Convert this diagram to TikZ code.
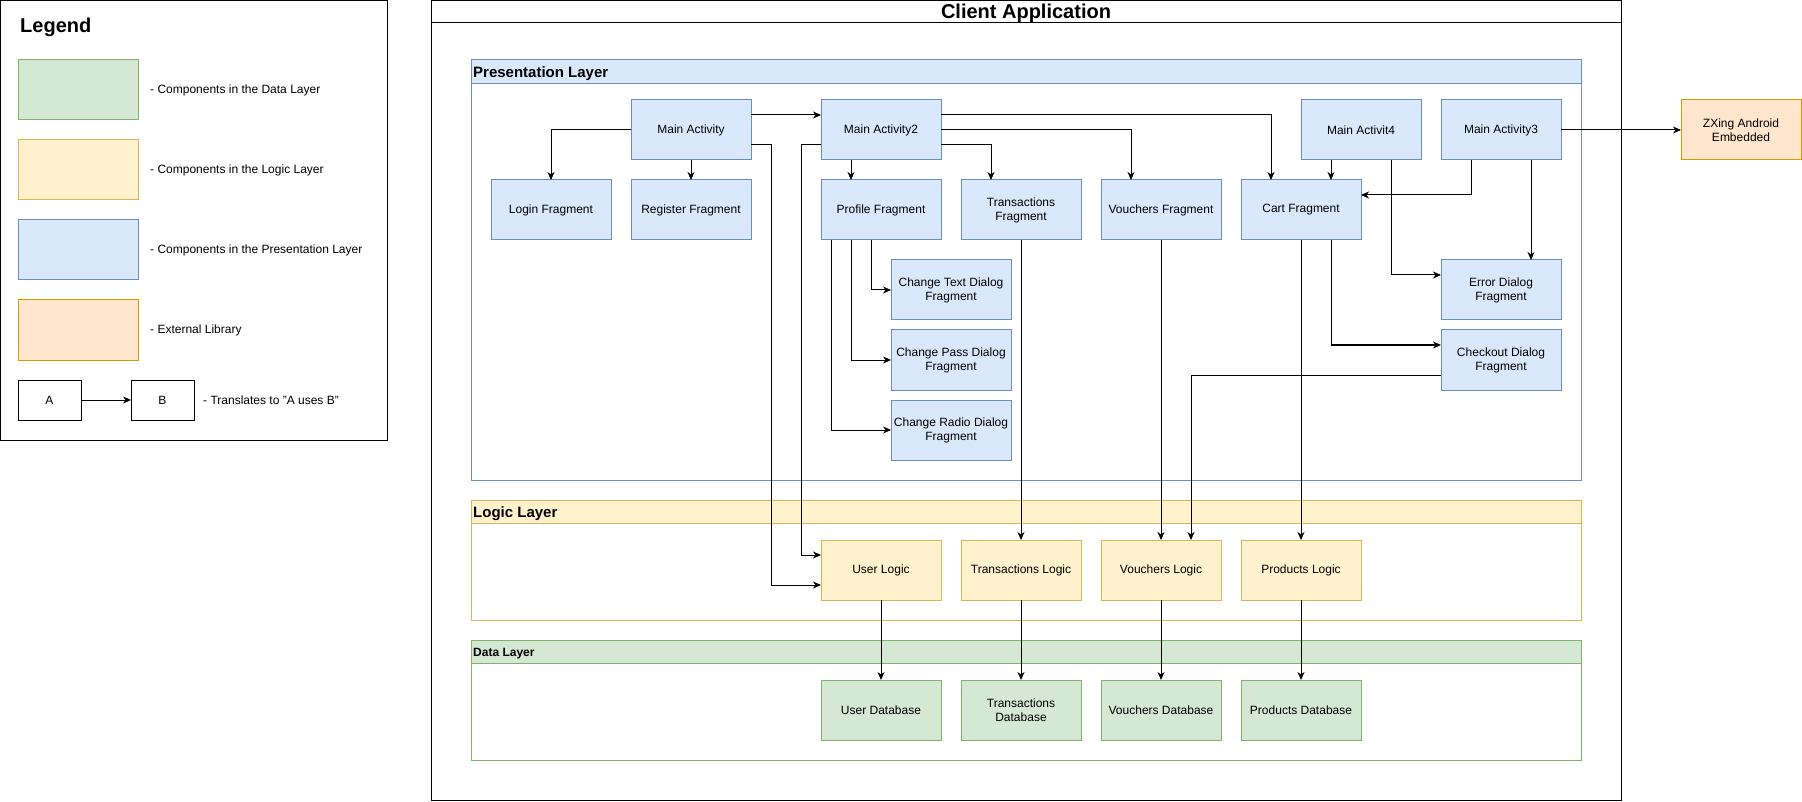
\documentclass[tikz,border=0pt]{standalone}
\usepackage{fontspec}
\setmainfont{Liberation Sans}
\usetikzlibrary{arrows.meta,calc}
\definecolor{pfill}{HTML}{DAE8FC}
\definecolor{pline}{HTML}{6C8EBF}
\definecolor{lfill}{HTML}{FFF2CC}
\definecolor{lline}{HTML}{D6B656}
\definecolor{dfill}{HTML}{D5E8D4}
\definecolor{dline}{HTML}{82B366}
\definecolor{efill}{HTML}{FFE6CC}
\definecolor{eline}{HTML}{D79B00}
\begin{document}
\begin{tikzpicture}[x=1pt,y=-1pt,
  every node/.style={font=\fontsize{12}{14}\selectfont},
  box/.style={draw, line width=1pt, minimum width=120pt, minimum height=60pt, inner sep=0pt, outer sep=0pt, align=center},
  pbox/.style={box, fill=pfill, draw=pline},
  lbox/.style={box, fill=lfill, draw=lline},
  dbox/.style={box, fill=dfill, draw=dline},
  ebox/.style={box, fill=efill, draw=eline},
  wbox/.style={box, fill=white, draw=black, minimum width=63pt, minimum height=40pt},
  frame/.style={line width=1pt},
  legtext/.style={anchor=west, inner sep=0pt},
  conn/.style={line width=1pt, -{Stealth[length=8pt,width=7pt,inset=2.5pt]}},
]
\useasboundingbox (0,0) rectangle (1802,802);
\fill[white] (0,0) rectangle (1802,802);

% ---------- Legend ----------
\draw[frame] (0.5,0.5) rectangle (387,440);
\node[legtext, font=\fontsize{20}{24}\bfseries\selectfont] (legtitle) at (20,27) {Legend};
\node[dbox] (sw1) at (78,90) {};
\node[lbox] (sw2) at (78,170) {};
\node[pbox] (sw3) at (78,250) {};
\node[ebox] (sw4) at (78,330) {};
\node[legtext] (lt1) at (150,90) {- Components in the Data Layer};
\node[legtext] (lt2) at (150,170) {- Components in the Logic Layer};
\node[legtext] (lt3) at (150,250) {- Components in the Presentation Layer};
\node[legtext] (lt4) at (150,330) {- External Library};
\node[wbox] (la) at (49.5,400) {A};
\node[wbox] (lb) at (162.5,400) {B};
\draw[conn] (la.east) -- (lb.west);
\node[legtext] (lt5) at (203,400) {- Translates to "A uses B"};

% ---------- Client Application frame ----------
\draw[frame] (431,0.5) rectangle (1621,800);
\draw[frame] (431,23) -- (1621,23);
\node[font=\fontsize{20}{24}\bfseries\selectfont, inner sep=0pt] (cat) at (1026,13.5) {Client Application};

% ---------- Layers ----------
\draw[pline, line width=1pt, fill=white] (471,60) rectangle (1581,480);
\draw[pline, line width=1pt, fill=pfill] (471,60) rectangle (1581,84);
\node[legtext, font=\fontsize{15}{18}\bfseries\selectfont] (plt) at (473,73.5) {Presentation Layer};

\draw[lline, line width=1pt, fill=white] (471,500) rectangle (1581,620);
\draw[lline, line width=1pt, fill=lfill] (471,500) rectangle (1581,523);
\node[legtext, font=\fontsize{15}{18}\bfseries\selectfont] (llt) at (473,513.5) {Logic Layer};

\draw[dline, line width=1pt, fill=white] (471,640) rectangle (1581,760);
\draw[dline, line width=1pt, fill=dfill] (471,640) rectangle (1581,663);
\node[legtext, font=\fontsize{12}{14}\bfseries\selectfont] (dlt) at (473,653.5) {Data Layer};

% ---------- Presentation nodes ----------
\node[pbox] (ma) at (691,130) {Main Activity};
\node[pbox] (ma2) at (881,130) {Main Activity2};
\node[pbox] (m4) at (1361,130) {Main Activit4};
\node[pbox] (m3) at (1501,130) {Main Activity3};
\node[ebox] (zx) at (1741,130) {ZXing Android\\Embedded};

\node[pbox] (lf) at (551,210) {Login Fragment};
\node[pbox] (rf) at (691,210) {Register Fragment};
\node[pbox] (pf) at (881,210) {Profile Fragment};
\node[pbox] (tf) at (1021,210) {Transactions\\Fragment};
\node[pbox] (vf) at (1161,210) {Vouchers Fragment};
\node[pbox] (cart) at (1301,210) {Cart Fragment};

\node[pbox] (ctd) at (951,290) {Change Text Dialog\\Fragment};
\node[pbox] (cpd) at (951,360) {Change Pass Dialog\\Fragment};
\node[pbox] (crd) at (951,430) {Change Radio Dialog\\Fragment};
\node[pbox] (ed) at (1501,290) {Error Dialog\\Fragment};
\node[pbox] (cod) at (1501,360) {Checkout Dialog\\Fragment};

% ---------- Logic nodes ----------
\node[lbox] (ul) at (881,570) {User Logic};
\node[lbox] (tl) at (1021,570) {Transactions Logic};
\node[lbox] (vl) at (1161,570) {Vouchers Logic};
\node[lbox] (pl) at (1301,570) {Products Logic};

% ---------- Data nodes ----------
\node[dbox] (udb) at (881,710) {User Database};
\node[dbox] (tdb) at (1021,710) {Transactions\\Database};
\node[dbox] (vdb) at (1161,710) {Vouchers Database};
\node[dbox] (pdb) at (1301,710) {Products Database};

% ---------- Connectors ----------
\draw[conn] ($(ma.north east)!.25!(ma.south east)$) -- ($(ma2.north west)!.25!(ma2.south west)$);
\draw[conn] ($(ma.north east)!.75!(ma.south east)$) -- ++(20,0) |- ($(ul.north west)!.75!(ul.south west)$);
\draw[conn] ($(ma2.north west)!.75!(ma2.south west)$) -- ++(-20,0) |- ($(ul.north west)!.25!(ul.south west)$);
\draw[conn] ($(ma2.north east)!.25!(ma2.south east)$) -| ($(cart.north west)!.25!(cart.north east)$);
\draw[conn] (ma2.east) -| ($(vf.north west)!.25!(vf.north east)$);
\draw[conn] ($(ma2.north east)!.75!(ma2.south east)$) -| ($(tf.north west)!.25!(tf.north east)$);
\draw[conn] ($(ma2.south west)!.25!(ma2.south east)$) -- ($(pf.north west)!.25!(pf.north east)$);
\draw[conn] (ma.west) -| (lf.north);
\draw[conn] (ma.south) -- (rf.north);

\draw[conn] ($(pf.south west)!5/12!(pf.south east)$) |- (ctd.west);
\draw[conn] ($(pf.south west)!.25!(pf.south east)$) |- (cpd.west);
\draw[conn] ($(pf.south west)!1/12!(pf.south east)$) |- (crd.west);

\draw[conn] (tf.south) -- (tl.north);
\draw[conn] (vf.south) -- (vl.north);
\draw[conn] ($(cod.north west)!.75!(cod.south west)$) -| ($(vl.north west)!.75!(vl.north east)$);
\draw[conn] (cart.south) -- (pl.north);
\draw[conn] ($(cart.south west)!.75!(cart.south east)$) |- ($(cod.north west)!.25!(cod.south west)$);

\draw[conn] ($(m4.south west)!.25!(m4.south east)$) -- ($(cart.north west)!.75!(cart.north east)$);
\draw[conn] ($(m4.south west)!.75!(m4.south east)$) |- ($(ed.north west)!.25!(ed.south west)$);
\draw[conn] ($(m3.south west)!.25!(m3.south east)$) |- ($(cart.north east)!.25!(cart.south east)$);
\draw[conn] ($(m3.south west)!.75!(m3.south east)$) -- ($(ed.north west)!.75!(ed.north east)$);
\draw[conn] (m3.east) -- (zx.west);

\draw[conn] (ul.south) -- (udb.north);
\draw[conn] (tl.south) -- (tdb.north);
\draw[conn] (vl.south) -- (vdb.north);
\draw[conn] (pl.south) -- (pdb.north);
\end{tikzpicture}
\end{document}
